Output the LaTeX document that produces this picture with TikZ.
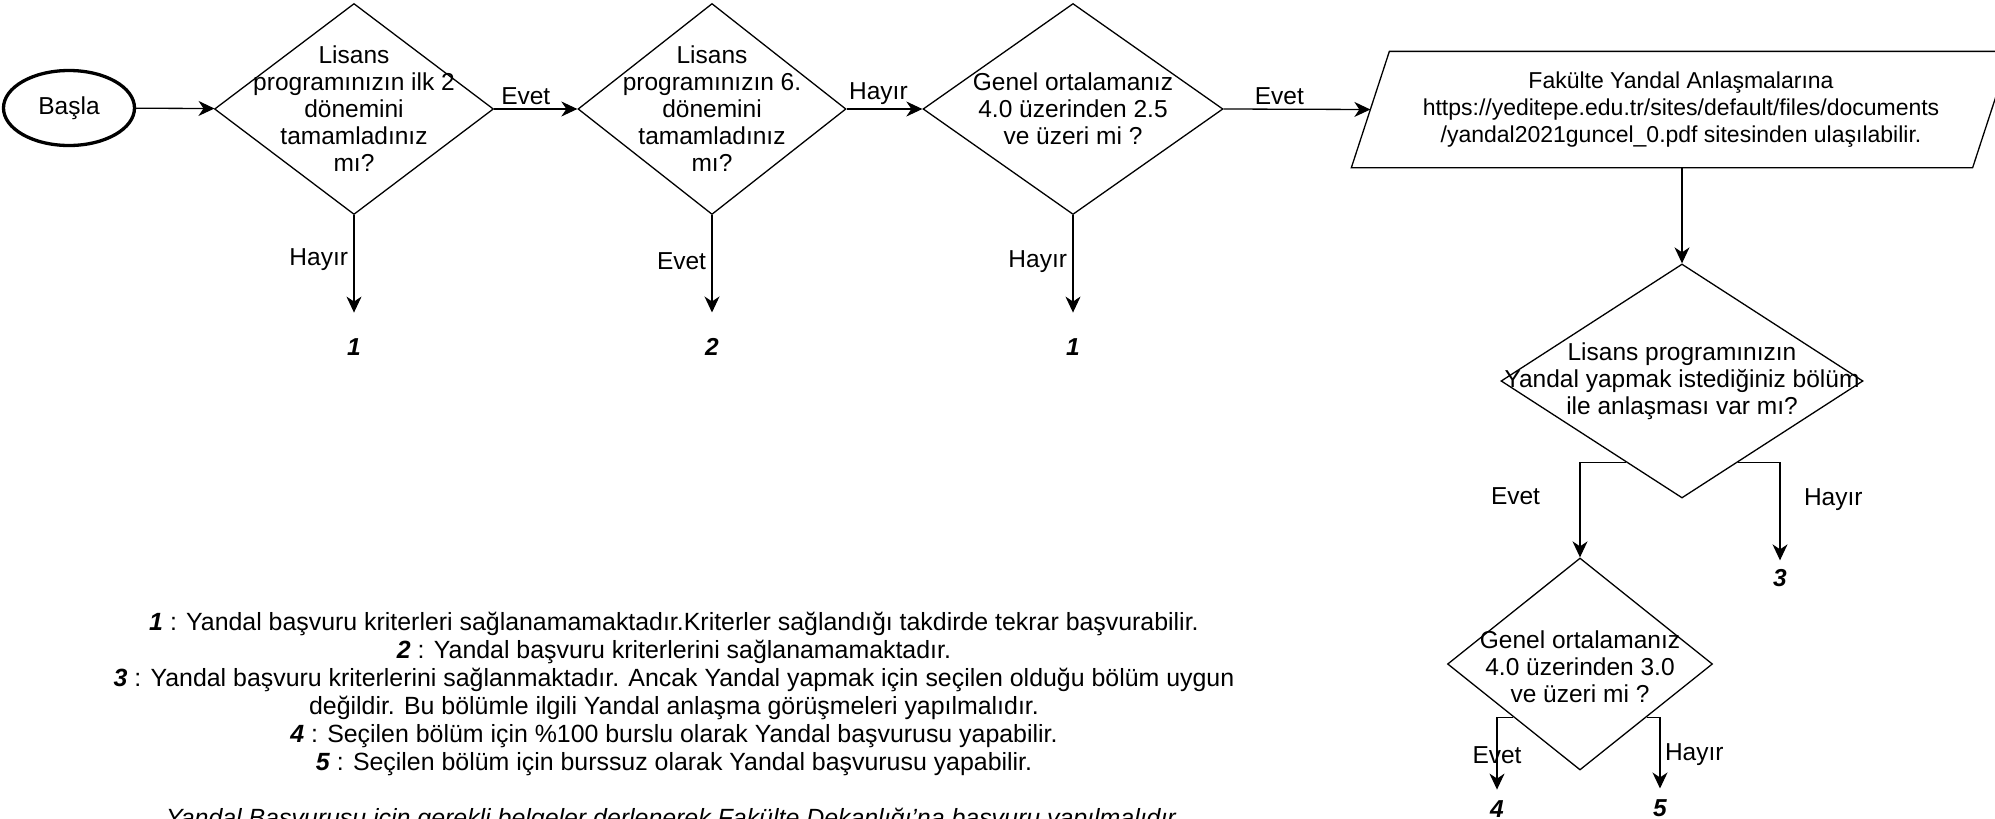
\documentclass[tikz,border=0pt]{standalone}
\usepackage{fontspec}
\setmainfont{Liberation Sans}
\usetikzlibrary{shapes.geometric,arrows.meta,calc}

\begin{document}
\begin{tikzpicture}[x=1pt,y=-1pt,
  font=\fontsize{24.5}{27}\selectfont,
  arr/.style={-{Stealth[length=16pt,width=15pt,inset=5pt]}},
  karar/.style={diamond,draw,inner sep=0pt},
  num/.style={font=\fontsize{24.5}{27}\selectfont\bfseries\itshape}]
  \useasboundingbox (0,0) rectangle (1995,819);
  \fill[white] (0,0) rectangle (1995,819);
  \clip (0,0) rectangle (1995,819);

  \begin{scope}[line width=1.3pt]
    \node[ellipse,draw,line width=3.3pt,minimum width=131,minimum height=75] (basla) at (69,108) {Başla};
    \node[karar,minimum width=279,minimum height=211] (d1) at (354,109) {};
    \node[karar,minimum width=268,minimum height=211] (d2) at (712,109) {};
    \node[karar,minimum width=300,minimum height=211] (d3) at (1073,109) {};
    \node[minimum width=582,minimum height=115,inner sep=0pt] (site) at (1681,109.5) {};
    \draw (site.north west) -- ($(site.north east)+(38,0)$) -- (site.south east)
      -- ($(site.south west)+(-38,0)$) -- cycle;
    \coordinate (sitegiris) at ($(site.west)+(-19,0)$);
    \node[karar,minimum width=362,minimum height=234] (d4) at (1682,381) {};
    \node[karar,minimum width=265,minimum height=212] (d5) at (1580,664) {};

    \node[num] (s1) at (354,347) {1};
    \node[num] (s2) at (712,347) {2};
    \node[num] (s1b) at (1073,347) {1};
    \node[num] (s3) at (1780,578) {3};
    \node[num] (s4) at (1497,809) {4};
    \node[num] (s5) at (1660,808) {5};

    \draw[arr] (basla) -- (d1);
    \draw[arr] (d1) -- node[pos=.38,above] (e1) {Evet} (d2);
    \draw[arr] (d2) -- node[pos=.42,above] (h1) {Hayır} (d3);
    \draw[arr] (d3.east) -- node[pos=.38,above] (e2) {Evet} (sitegiris);
    \draw[arr,shorten >=22pt] (d1.south) -- node[pos=.37,left=2pt] (h2) {Hayır} (s1.north);
    \draw[arr,shorten >=22pt] (d2.south) -- node[pos=.39,left=2pt] (e3) {Evet} (s2.north);
    \draw[arr,shorten >=22pt] (d3.south) -- node[pos=.39,left=2pt] (h3) {Hayır} (s1b.north);
    \draw[arr] (site.south -| d4.north) -- (d4.north);

    \coordinate (d4l) at ($(d4.south)!0.31!(d4.west)$);
    \coordinate (d4r) at ($(d4.south)!0.31!(d4.east)$);
    \draw[arr] (d4l) -| node[pos=.68,left=36pt] (e4) {Evet} (d5.north);
    \draw[arr,shorten >=5pt] (d4r) -| node[pos=.68,right=20pt] (h4) {Hayır} (s3.north);

    \coordinate (d5l) at ($(d5.south)!0.5!(d5.west)$);
    \coordinate (d5r) at ($(d5.south)!0.5!(d5.east)$);
    \draw[arr,shorten >=7pt] (d5l) -| node[pos=.74] (e5) {Evet} (s4.north);
    \draw[arr,shorten >=7pt] (d5r) -| node[pos=.74,right=1pt] (h5) {Hayır} (s5.north);
  \end{scope}

  \node[align=center] (d1t) at (d1) {Lisans\\programınızın ilk 2\\dönemini\\tamamladınız\\mı?};
  \node[align=center] (d2t) at (d2) {Lisans\\programınızın 6.\\dönemini\\tamamladınız\\mı?};
  \node[align=center] (d3t) at (d3) {Genel ortalamanız\\4.0 üzerinden 2.5\\ve üzeri mi ?};
  \node[align=center,font=\fontsize{23}{27}\selectfont] (sitet) at (site) {Fakülte Yandal Anlaşmalarına\\https://yeditepe.edu.tr/sites/default/files/documents\\/yandal2021guncel\_0.pdf sitesinden ulaşılabilir.};
  \node[align=center] (d4t) at (d4) {Lisans programınızın\\Yandal yapmak istediğiniz bölüm\\ile anlaşması var mı?};
  \node[align=center] (d5t) at ($(d5)+(0,3)$) {Genel ortalamanız\\4.0 üzerinden 3.0\\ve üzeri mi ?};

  % Aciklamalar
  \node[align=center,font=\fontsize{24.9}{28}\selectfont] (aciklama) at (674,722) {%
    \textbf{\textit{1}} : Yandal başvuru kriterleri sağlanamamaktadır.Kriterler sağlandığı takdirde tekrar başvurabilir.\\
    \textbf{\textit{2}} : Yandal başvuru kriterlerini sağlanamamaktadır.\\
    \textbf{\textit{3}} : Yandal başvuru kriterlerini sağlanmaktadır. Ancak Yandal yapmak için seçilen olduğu bölüm uygun\\
    değildir. Bu bölümle ilgili Yandal anlaşma görüşmeleri yapılmalıdır.\\
    \textbf{\textit{4}} : Seçilen bölüm için \%100 burslu olarak Yandal başvurusu yapabilir.\\
    \textbf{\textit{5}} : Seçilen bölüm için burssuz olarak Yandal başvurusu yapabilir.\\[28pt]
    \textit{Yandal Başvurusu için gerekli belgeler derlenerek Fakülte Dekanlığı'na başvuru yapılmalıdır.}};
\end{tikzpicture}
\end{document}
